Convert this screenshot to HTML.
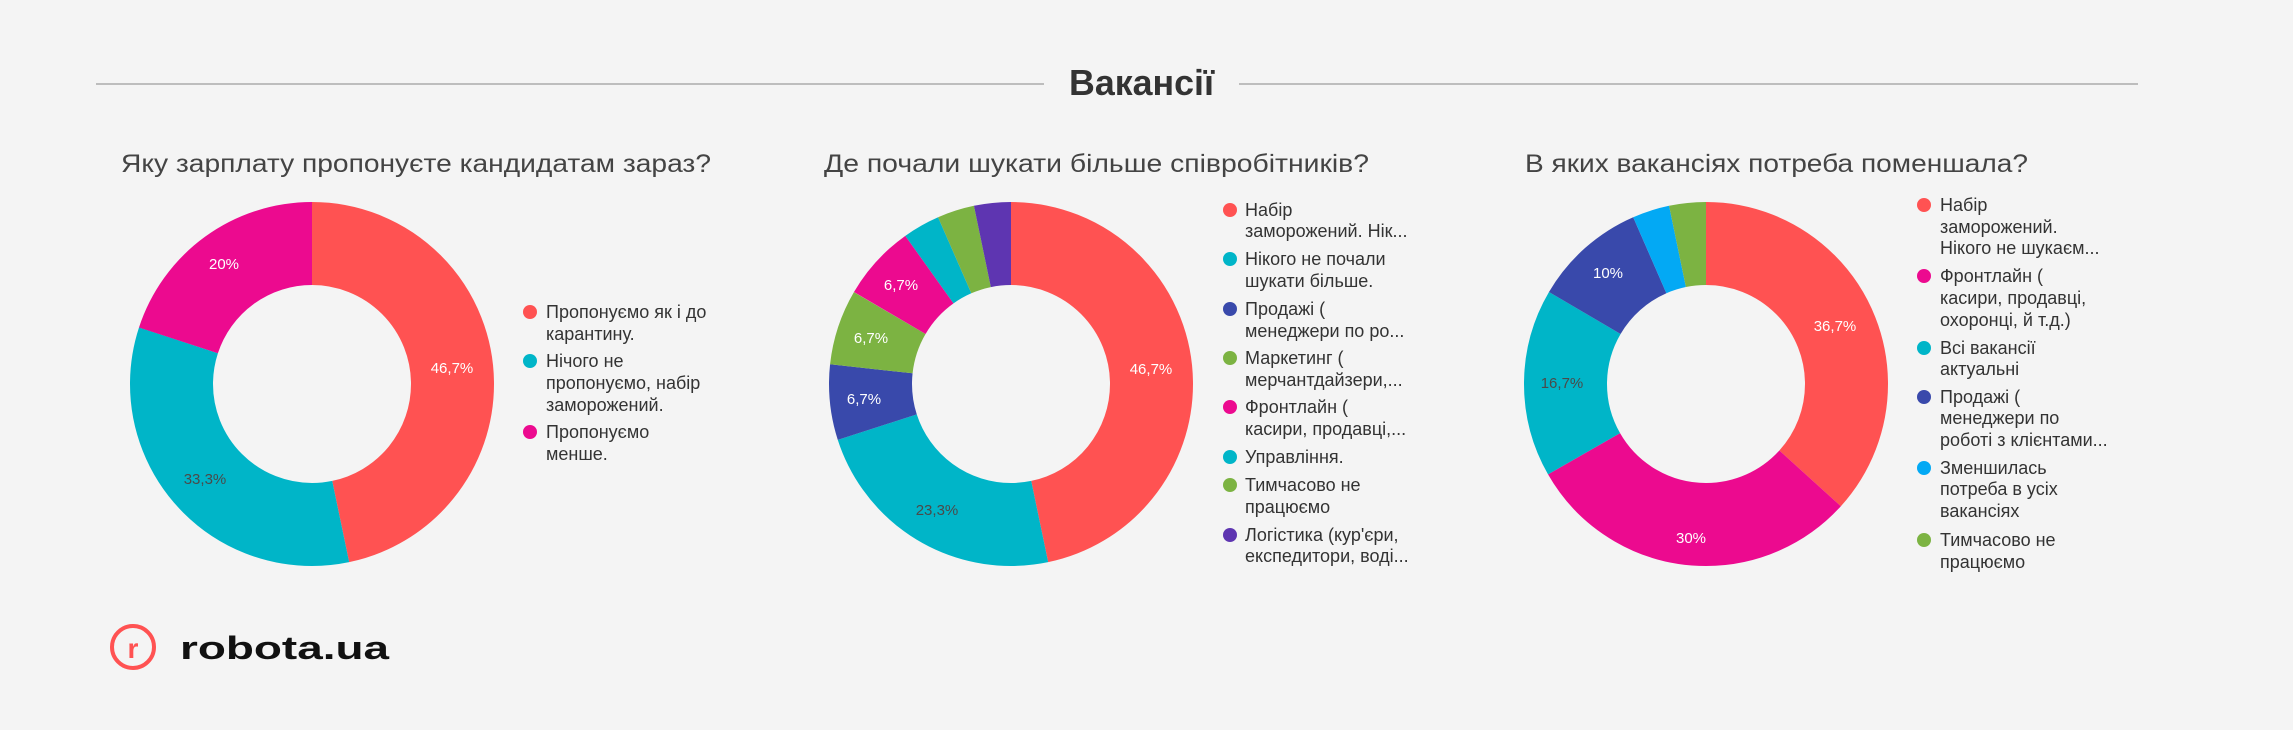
<!DOCTYPE html>
<html><head><meta charset="utf-8"><style>
html,body{margin:0;padding:0;background:#f4f4f4;}
svg{display:block;font-family:"Liberation Sans","DejaVu Sans",sans-serif;}
.t{font-size:25px;fill:#444;}
.lg{font-size:18px;fill:#333;}
.lb{font-size:15px;fill:#fff;text-anchor:middle;}
.lbd{font-size:15px;fill:#4a4a4a;text-anchor:middle;}
</style></head><body>
<svg width="2293" height="730" viewBox="0 0 2293 730" xmlns="http://www.w3.org/2000/svg">
<rect width="2293" height="730" fill="#f4f4f4"/>
<line x1="96" y1="84" x2="1044" y2="84" stroke="#bdbdbd" stroke-width="2"/>
<line x1="1239" y1="84" x2="2138" y2="84" stroke="#bdbdbd" stroke-width="2"/>
<text x="1069" y="95" font-size="36" font-weight="bold" fill="#333" textLength="145" lengthAdjust="spacingAndGlyphs">Вакансії</text>

<text class="t" x="121" y="172" textLength="590" lengthAdjust="spacingAndGlyphs">Яку зарплату пропонуєте кандидатам зараз?</text>
<text class="t" x="824" y="172" textLength="545" lengthAdjust="spacingAndGlyphs">Де почали шукати більше співробітників?</text>
<text class="t" x="1525" y="172" textLength="503" lengthAdjust="spacingAndGlyphs">В яких вакансіях потреба поменшала?</text>

<!-- Chart 1 -->
<g fill="none" stroke-width="83" transform="rotate(-90 312 384)">
<circle cx="312" cy="384" r="140.5" stroke="#ff5252" stroke-dasharray="412.3 882.8" stroke-dashoffset="0"/>
<circle cx="312" cy="384" r="140.5" stroke="#00b5c8" stroke-dasharray="294 882.8" stroke-dashoffset="-412.3"/>
<circle cx="312" cy="384" r="140.5" stroke="#ec0a8f" stroke-dasharray="176.6 882.8" stroke-dashoffset="-706.2"/>
</g>
<text class="lb" x="452" y="373">46,7%</text>
<text class="lbd" x="205" y="484">33,3%</text>
<text class="lb" x="224" y="269">20%</text>
<circle cx="530" cy="312" r="7" fill="#ff5252"/>
<text class="lg" x="546" y="318">Пропонуємо як і до</text>
<text class="lg" x="546" y="340">карантину.</text>
<circle cx="530" cy="361" r="7" fill="#00b5c8"/>
<text class="lg" x="546" y="367">Нічого не</text>
<text class="lg" x="546" y="389">пропонуємо, набір</text>
<text class="lg" x="546" y="411">заморожений.</text>
<circle cx="530" cy="432" r="7" fill="#ec0a8f"/>
<text class="lg" x="546" y="438">Пропонуємо</text>
<text class="lg" x="546" y="460">менше.</text>

<!-- Chart 2 -->
<g fill="none" stroke-width="83" transform="rotate(-90 1011 384)">
<circle cx="1011" cy="384" r="140.5" stroke="#ff5252" stroke-dasharray="412.3 882.8" stroke-dashoffset="0"/>
<circle cx="1011" cy="384" r="140.5" stroke="#00b5c8" stroke-dasharray="205.7 882.8" stroke-dashoffset="-412.3"/>
<circle cx="1011" cy="384" r="140.5" stroke="#3949ab" stroke-dasharray="59.1 882.8" stroke-dashoffset="-618"/>
<circle cx="1011" cy="384" r="140.5" stroke="#7cb342" stroke-dasharray="59.1 882.8" stroke-dashoffset="-677.1"/>
<circle cx="1011" cy="384" r="140.5" stroke="#ec0a8f" stroke-dasharray="59.1 882.8" stroke-dashoffset="-736.3"/>
<circle cx="1011" cy="384" r="140.5" stroke="#00b5c8" stroke-dasharray="29.1 882.8" stroke-dashoffset="-795.4"/>
<circle cx="1011" cy="384" r="140.5" stroke="#7cb342" stroke-dasharray="29.1 882.8" stroke-dashoffset="-824.5"/>
<circle cx="1011" cy="384" r="140.5" stroke="#5e35b1" stroke-dasharray="29.5 882.8" stroke-dashoffset="-853.6"/>
</g>
<text class="lb" x="1151" y="374">46,7%</text>
<text class="lbd" x="937" y="515">23,3%</text>
<text class="lb" x="864" y="404">6,7%</text>
<text class="lb" x="871" y="343">6,7%</text>
<text class="lb" x="901" y="290">6,7%</text>
<circle cx="1230" cy="210" r="7" fill="#ff5252"/>
<text class="lg" x="1245" y="216">Набір</text>
<text class="lg" x="1245" y="237">заморожений. Нік...</text>
<circle cx="1230" cy="259" r="7" fill="#00b5c8"/>
<text class="lg" x="1245" y="265">Нікого не почали</text>
<text class="lg" x="1245" y="287">шукати більше.</text>
<circle cx="1230" cy="309" r="7" fill="#3949ab"/>
<text class="lg" x="1245" y="315">Продажі (</text>
<text class="lg" x="1245" y="337">менеджери по ро...</text>
<circle cx="1230" cy="358" r="7" fill="#7cb342"/>
<text class="lg" x="1245" y="364">Маркетинг (</text>
<text class="lg" x="1245" y="386">мерчантдайзери,...</text>
<circle cx="1230" cy="407" r="7" fill="#ec0a8f"/>
<text class="lg" x="1245" y="413">Фронтлайн (</text>
<text class="lg" x="1245" y="435">касири, продавці,...</text>
<circle cx="1230" cy="457" r="7" fill="#00b5c8"/>
<text class="lg" x="1245" y="463">Управління.</text>
<circle cx="1230" cy="485" r="7" fill="#7cb342"/>
<text class="lg" x="1245" y="491">Тимчасово не</text>
<text class="lg" x="1245" y="513">працюємо</text>
<circle cx="1230" cy="535" r="7" fill="#5e35b1"/>
<text class="lg" x="1245" y="541">Логістика (кур'єри,</text>
<text class="lg" x="1245" y="562">експедитори, воді...</text>

<!-- Chart 3 -->
<g fill="none" stroke-width="83" transform="rotate(-90 1706 384)">
<circle cx="1706" cy="384" r="140.5" stroke="#ff5252" stroke-dasharray="324 882.8" stroke-dashoffset="0"/>
<circle cx="1706" cy="384" r="140.5" stroke="#ec0a8f" stroke-dasharray="264.8 882.8" stroke-dashoffset="-324"/>
<circle cx="1706" cy="384" r="140.5" stroke="#00b5c8" stroke-dasharray="147.5 882.8" stroke-dashoffset="-588.8"/>
<circle cx="1706" cy="384" r="140.5" stroke="#3949ab" stroke-dasharray="88.3 882.8" stroke-dashoffset="-736.3"/>
<circle cx="1706" cy="384" r="140.5" stroke="#03a9f4" stroke-dasharray="29.1 882.8" stroke-dashoffset="-824.6"/>
<circle cx="1706" cy="384" r="140.5" stroke="#7cb342" stroke-dasharray="29.5 882.8" stroke-dashoffset="-853.7"/>
</g>
<text class="lb" x="1835" y="331">36,7%</text>
<text class="lb" x="1691" y="543">30%</text>
<text class="lbd" x="1562" y="388">16,7%</text>
<text class="lb" x="1608" y="278">10%</text>
<circle cx="1924" cy="205" r="7" fill="#ff5252"/>
<text class="lg" x="1940" y="211">Набір</text>
<text class="lg" x="1940" y="233">заморожений.</text>
<text class="lg" x="1940" y="254">Нікого не шукаєм...</text>
<circle cx="1924" cy="276" r="7" fill="#ec0a8f"/>
<text class="lg" x="1940" y="282">Фронтлайн (</text>
<text class="lg" x="1940" y="304">касири, продавці,</text>
<text class="lg" x="1940" y="326">охоронці, й т.д.)</text>
<circle cx="1924" cy="348" r="7" fill="#00b5c8"/>
<text class="lg" x="1940" y="354">Всі вакансії</text>
<text class="lg" x="1940" y="375">актуальні</text>
<circle cx="1924" cy="397" r="7" fill="#3949ab"/>
<text class="lg" x="1940" y="403">Продажі (</text>
<text class="lg" x="1940" y="424">менеджери по</text>
<text class="lg" x="1940" y="446">роботі з клієнтами...</text>
<circle cx="1924" cy="468" r="7" fill="#03a9f4"/>
<text class="lg" x="1940" y="474">Зменшилась</text>
<text class="lg" x="1940" y="495">потреба в усіх</text>
<text class="lg" x="1940" y="517">вакансіях</text>
<circle cx="1924" cy="540" r="7" fill="#7cb342"/>
<text class="lg" x="1940" y="546">Тимчасово не</text>
<text class="lg" x="1940" y="568">працюємо</text>

<!-- Logo -->
<circle cx="133" cy="647" r="21" fill="none" stroke="#ff5252" stroke-width="4"/>
<text x="133" y="658" font-size="28" font-weight="bold" fill="#ff5252" text-anchor="middle">r</text>
<text x="180" y="659" font-size="32" font-weight="bold" fill="#111" textLength="209" lengthAdjust="spacingAndGlyphs">robota.ua</text>
</svg>
</body></html>
